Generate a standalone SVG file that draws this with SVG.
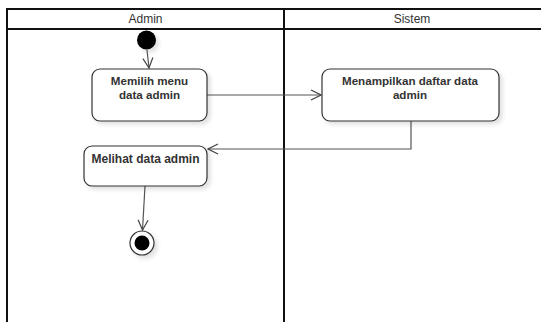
<svg xmlns="http://www.w3.org/2000/svg" width="541" height="322" viewBox="0 0 541 322">
<style>
.lane{fill:none;stroke:#111;stroke-width:2}
.hdr{font-family:"Liberation Sans",Arial,sans-serif;font-size:12px;fill:#333;text-anchor:middle}
.box{fill:#fff;stroke:#333;stroke-width:1.2}
.lbl{font-family:"Liberation Sans",Arial,sans-serif;font-size:12px;font-weight:bold;fill:#333;text-anchor:middle}
.lbl2{font-family:"Liberation Sans",Arial,sans-serif;font-size:11.6px;font-weight:bold;fill:#333;text-anchor:middle}
.edge{fill:none;stroke:#555;stroke-width:1.2;marker-end:url(#arr)}
</style>
<defs>
<marker id="arr" viewBox="0 0 12 12" refX="11" refY="6" markerWidth="12" markerHeight="12" markerUnits="userSpaceOnUse" orient="auto">
<path d="M1,1 L11,6 L1,11" fill="none" stroke="#444" stroke-width="1.2"/>
</marker>
<filter id="sh" x="-20%" y="-20%" width="150%" height="150%">
<feDropShadow dx="3" dy="3" stdDeviation="2" flood-color="#000" flood-opacity="0.12"/>
</filter>
</defs>
<rect width="541" height="322" fill="#fff"/>
<g id="lanes">
<path class="lane" d="M7,322 V9 H541 M7,29 H541 M284,9 V322"/>
<text class="hdr" x="145.5" y="23">Admin</text>
<text class="hdr" x="412" y="23">Sistem</text>
</g>
<g id="connectors">
<path class="edge" d="M147,50 L149,68"/>
<path class="edge" d="M207,95 H321"/>
<path class="edge" d="M411,121 V149 H208"/>
<path class="edge" d="M145,186 L142.5,230"/>
</g>
<g id="start">
<circle cx="146.5" cy="40" r="9.5" fill="#000" filter="url(#sh)"/>
</g>
<g id="n1">
<rect class="box" x="92" y="69" width="115" height="52" rx="8" filter="url(#sh)"/>
<text class="lbl2" x="149.5" y="85">Memilih menu</text>
<text class="lbl2" x="149.5" y="98.5">data admin</text>
</g>
<g id="n2">
<rect class="box" x="322" y="69" width="177" height="52" rx="8" filter="url(#sh)"/>
<text class="lbl2" x="410" y="85">Menampilkan daftar data</text>
<text class="lbl2" x="410" y="98.5">admin</text>
</g>
<g id="n3">
<rect class="box" x="84" y="146" width="123" height="40" rx="8" filter="url(#sh)"/>
<text class="lbl" x="145.5" y="163">Melihat data admin</text>
</g>
<g id="end">
<circle cx="142" cy="243" r="12" fill="#fff" stroke="#333" stroke-width="1.2" filter="url(#sh)"/>
<circle cx="142" cy="243" r="7.5" fill="#000"/>
</g>
</svg>
